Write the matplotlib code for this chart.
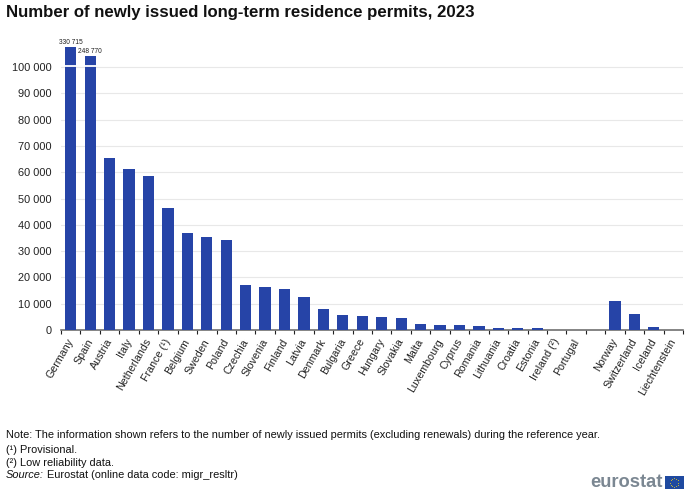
import numpy as np
import matplotlib
matplotlib.use("Agg")
import matplotlib.pyplot as plt
from matplotlib.transforms import ScaledTranslation

plt.rcParams["font.family"] = ["Liberation Sans", "DejaVu Sans"]

countries = ["Germany", "Spain", "Austria", "Italy", "Netherlands", "France (¹)", "Belgium",
             "Sweden", "Poland", "Czechia", "Slovenia", "Finland", "Latvia", "Denmark",
             "Bulgaria", "Greece", "Hungary", "Slovakia", "Malta", "Luxembourg", "Cyprus",
             "Romania", "Lithuania", "Croatia", "Estonia", "Ireland (²)", "Portugal", "",
             "Norway", "Switzerland", "Iceland", "Liechtenstein"]
# first two bars are cut off on the axis, real values go in the labels
values = [107700, 104200, 65600, 61300, 58500, 46300, 37000, 35200, 34200, 17200, 16200,
          15600, 12500, 7900, 5700, 5500, 5000, 4400, 2200, 1900, 1900, 1400, 900, 900, 700,
          100, 0, 0, 10900, 6000, 1000, 50]
cut_labels = ["330 715", "248 770"]
cut_at = [100500, 100500]
y_ticks = list(range(0, 110000, 10000))
y_labels = ["0"] + [f"{v // 1000} 000" for v in y_ticks[1:]]

blue = "#2644A7"
fig = plt.figure(figsize=(7, 4.99), dpi=100)
ax = fig.add_axes([61 / 700, 1 - 330 / 499, 622 / 700, 290 / 499])

x = np.arange(len(countries))
ax.bar(x, values, width=0.58, color=blue, zorder=3)
ax.set_xlim(-0.5, len(countries) - 0.5)
ax.set_ylim(0, 110300)

for i, (lab, c) in enumerate(zip(cut_labels, cut_at)):
    ax.hlines(c, i - 0.33, i + 0.33, color="white", lw=1.3, zorder=4)
    ax.text(i, values[i] + 400, lab, ha="center", va="bottom", fontsize=4.8, color="#222222")

ax.set_yticks(y_ticks)
ax.set_yticklabels(y_labels, fontsize=7.9, color="#222222")
ax.tick_params(axis="y", length=0, pad=7)
ax.grid(axis="y", color="#e8e8e8", lw=0.8, zorder=0)
ax.set_axisbelow(True)

ax.set_xticks(np.arange(len(countries) + 1) - 0.5)
ax.set_xticklabels([])
ax.tick_params(axis="x", which="major", length=3, width=0.8, color="#222222")
ax.set_xticks(x, minor=True)
ax.set_xticklabels(countries, minor=True, rotation=60, ha="right", va="top",
                   rotation_mode="anchor", fontsize=7.7, color="#222222")
ax.tick_params(axis="x", which="minor", length=0, pad=5)
shift = ScaledTranslation(-4 / 100, 0, fig.dpi_scale_trans)
for t in ax.get_xticklabels(minor=True):
    t.set_transform(t.get_transform() + shift)

for s in ["top", "left", "right"]:
    ax.spines[s].set_visible(False)
ax.spines["bottom"].set_color("#707070")
ax.spines["bottom"].set_linewidth(1.2)

fig.text(6 / 700, 1 - 12 / 499, "Number of newly issued long-term residence permits, 2023",
         fontsize=12.05, fontweight="bold", va="center", color="#111111")

note_size = 7.95
fig.text(6 / 700, 1 - 435.5 / 499,
         "Note: The information shown refers to the number of newly issued permits "
         "(excluding renewals) during the reference year.",
         fontsize=note_size, va="center", color="#111111")
fig.text(6 / 700, 1 - 450 / 499, "(¹) Provisional.", fontsize=note_size, va="center", color="#111111")
fig.text(6 / 700, 1 - 463 / 499, "(²) Low reliability data.", fontsize=note_size, va="center", color="#111111")
src = fig.text(6 / 700, 1 - 475.5 / 499, "Source:", fontsize=note_size, style="italic",
               va="center", color="#111111")
ax.annotate(" Eurostat (online data code: migr_resltr)", xy=(1, 0.5), xycoords=src, va="center",
            fontsize=note_size, color="#111111", annotation_clip=False)

# logo
fig.text(663 / 700, 1 - 482.5 / 499, "eurostat", fontsize=13.2, fontweight="bold", color="#7b8792",
         ha="right", va="center")
flag = fig.add_axes([665 / 700, 1 - 489 / 499, 18.5 / 700, 13 / 499])
flag.set_facecolor("#1F4AA0")
flag.set_xticks([])
flag.set_yticks([])
for s in flag.spines.values():
    s.set_visible(False)
flag.set_xlim(-1.45, 1.45)
flag.set_ylim(-1, 1)
a = np.arange(12) * np.pi / 6
flag.scatter(0.62 * np.cos(a), 0.62 * np.sin(a), s=0.6, color="#D8C22A", lw=0)

fig.savefig("out.png", dpi=100)
